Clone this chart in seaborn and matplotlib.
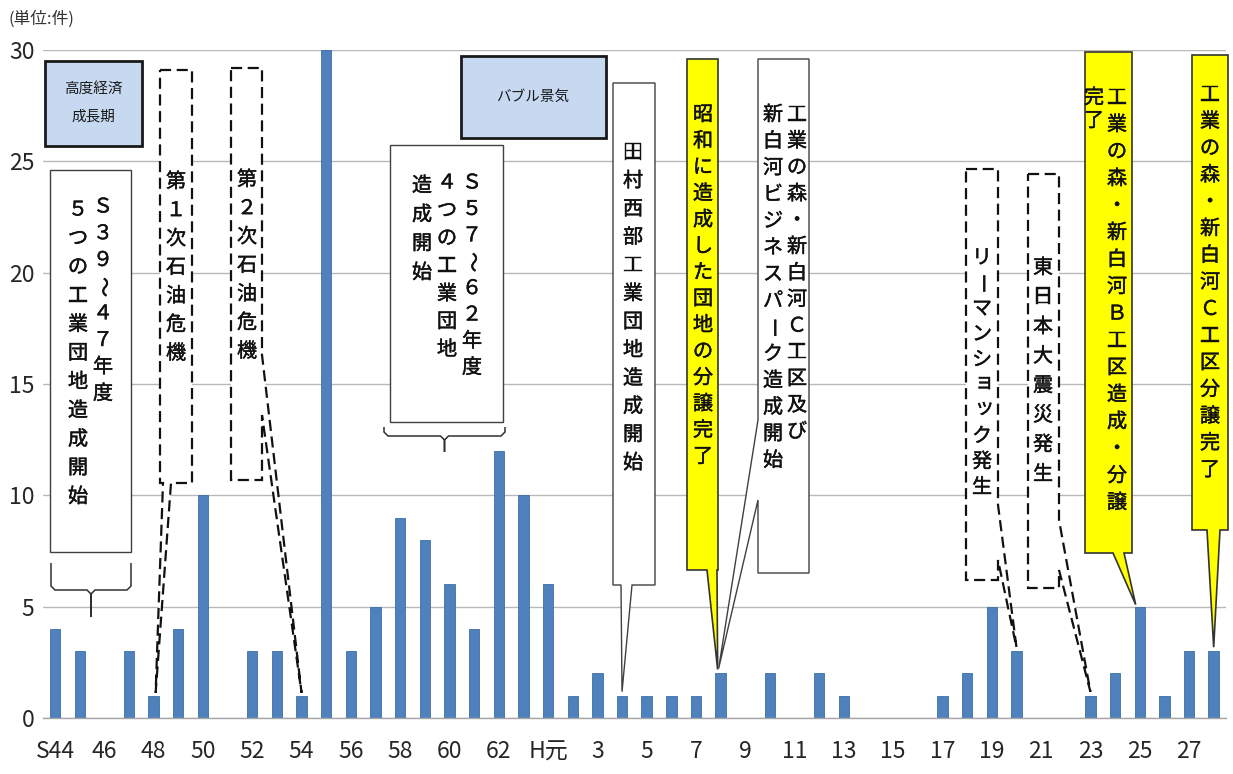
import matplotlib
matplotlib.use("Agg")
import matplotlib.pyplot as plt
import matplotlib.patheffects as pe
import seaborn as sns
import pandas as pd
import numpy as np
from matplotlib.patches import Polygon, Rectangle
from matplotlib.transforms import Affine2D

# Number of factory sitings per fiscal year (Showa 44 - Heisei 28)
years = ["S44", "S45", "S46", "S47", "S48", "S49", "S50", "S51", "S52", "S53",
         "S54", "S55", "S56", "S57", "S58", "S59", "S60", "S61", "S62", "S63",
         "H1", "H2", "H3", "H4", "H5", "H6", "H7", "H8", "H9", "H10",
         "H11", "H12", "H13", "H14", "H15", "H16", "H17", "H18", "H19", "H20",
         "H21", "H22", "H23", "H24", "H25", "H26", "H27", "H28"]
counts = [4, 3, 0, 3, 1, 4, 10, 0, 3, 3,
          1, 30, 3, 5, 9, 8, 6, 4, 12, 10,
          6, 1, 2, 1, 1, 1, 1, 2, 0, 2,
          0, 2, 1, 0, 0, 0, 1, 2, 5, 3,
          0, 0, 1, 2, 5, 1, 3, 3]
tick_labels = ["S44", "46", "48", "50", "52", "54", "56", "58", "60", "62",
               "H元", "3", "5", "7", "9", "11", "13", "15", "17", "19",
               "21", "23", "25", "27"]
y_ticks = [0, 5, 10, 15, 20, 25, 30]

W, H = 1233, 774
JP = ["Noto Sans CJK JP", "DejaVu Sans"]
NUM = ["Liberation Sans Narrow", "Noto Sans CJK JP", "DejaVu Sans"]

sns.set_style("white")
plt.rcParams["font.family"] = NUM

fig = plt.figure(figsize=(W / 100, H / 100), dpi=100)
ax = fig.add_axes([42.7 / W, 1 - 718 / H, (1226 - 42.7) / W, (718 - 50) / H])

df = pd.DataFrame({"year": years, "count": counts})
sns.barplot(data=df, x="year", y="count", color="#4F81BD", saturation=1,
            width=0.42, edgecolor="#3E6FA8", linewidth=0.6, ax=ax)

ax.set_xlim(-0.5, len(years) - 0.5)
ax.set_ylim(0, 30)
ax.set_xlabel("")
ax.set_ylabel("")
for s in ["top", "right", "left"]:
    ax.spines[s].set_visible(False)
ax.spines["bottom"].set_color("#A6A6A6")
ax.spines["bottom"].set_linewidth(1.0)
ax.set_yticks(y_ticks)
ax.set_yticklabels([str(v) for v in y_ticks], fontsize=16.5)
ax.yaxis.grid(True, color="#B8B8B8", linewidth=1.0)
ax.set_axisbelow(True)
ax.tick_params(axis="y", length=0, pad=6)
ax.set_xticks(np.arange(0, len(years), 2))
ax.set_xticklabels(tick_labels, fontsize=16.5)
ax.set_xticks(np.arange(-0.5, len(years), 1), minor=True)
ax.tick_params(axis="x", which="major", length=0, pad=16)
ax.tick_params(axis="x", which="minor", length=6, color="#A6A6A6", width=1)

# pixel-space transform (origin top-left) for the annotation layer
to_px = Affine2D().scale(1 / W, -1 / H).translate(0, 1) + fig.transFigure


def bar_top(idx, dx=0.0, dy=0.0):
    x, y = ax.transData.transform((idx, counts[idx]))
    return (x + dx, H - y - dy)


def box(x0, y0, x1, y1, fc="white", ec="#404040", lw=1.0, ls="-"):
    fig.add_artist(Rectangle((x0, y0), x1 - x0, y1 - y0, transform=to_px,
                             fc=fc, ec=ec, lw=lw, ls=ls, zorder=2))


def callout(x0, y0, x1, y1, side, b0, b1, tip, fc="white", ec="#404040",
            lw=1.0, ls="-"):
    if side == "bottom":
        pts = [(x0, y0), (x1, y0), (x1, y1), (b1, y1), tip, (b0, y1), (x0, y1)]
    elif side == "right":
        pts = [(x0, y0), (x1, y0), (x1, b0), tip, (x1, b1), (x1, y1), (x0, y1)]
    else:
        pts = [(x0, y0), (x1, y0), (x1, y1), (x0, y1), (x0, b1), tip, (x0, b0)]
    fig.add_artist(Polygon(pts, closed=True, transform=to_px, fc=fc, ec=ec,
                           lw=lw, ls=ls, joinstyle="miter", zorder=2))


SMALL_KANA = set("ッョャュァィゥェォ")
TURNED = set("ー～")
TEXT_SIZE = 14.5
INK = "#111111"
# slightly heavier strokes than the regular face
HEAVY = [pe.withStroke(linewidth=0.3, foreground=INK)]


def vcol(x, y, text, step, size=TEXT_SIZE):
    """Write one column of vertical (top-to-bottom) text."""
    for k, ch in enumerate(text):
        dx = dy = 0.0
        rot = 0
        if ch in TURNED:
            rot = -90
        if ch in SMALL_KANA:
            dx, dy = 2.5, -3.0
        fig.text(x + dx, y + k * step + dy, ch, transform=to_px, ha="center",
                 va="center", rotation=rot, fontsize=size, family=JP,
                 color=INK, path_effects=HEAVY, zorder=4)


def htext(x, y, text, size=10.5):
    fig.text(x, y, text, transform=to_px, ha="center", va="center",
             fontsize=size, family=JP, color="#1a1a1a", zorder=4)


def brace(x0, x1, ytop, ymid, ytip):
    xc = (x0 + x1) / 2
    r = 4
    pts = [(x0, ytop), (x0, ymid - r), (x0 + r, ymid), (xc - r, ymid),
           (xc, ymid + r), (xc, ytip), (xc, ymid + r), (xc + r, ymid),
           (x1 - r, ymid), (x1, ymid - r), (x1, ytop)]
    fig.add_artist(Polygon(pts, closed=False, fill=False, transform=to_px,
                           ec="#303030", lw=1.1, zorder=2))


DASH = (0, (5, 2.5))
YELLOW = "#FFFF00"
LIGHTBLUE = "#C6D9F1"

# unit
fig.text(8, 19, "(単位:件)", transform=to_px, ha="left", va="center",
         fontsize=12, family=JP, color="#333333")

# era boxes
box(45, 61, 142, 146, fc=LIGHTBLUE, ec="#1a1a1a", lw=2.0)
htext(93, 89, "高度経済")
htext(93, 117, "成長期")
box(461, 56, 606, 138, fc=LIGHTBLUE, ec="#1a1a1a", lw=2.0)
htext(533, 97, "バブル景気")

# S39-47 industrial parks
box(50, 170, 131, 552)
vcol(103, 207, "Ｓ３９～４７年度", 26.7)
vcol(78, 210, "５つの工業団地造成開始", 28.7)
brace(51, 131, 563, 590, 617)

# oil crises
callout(160, 70, 192, 483, "bottom", 163, 171, bar_top(4, dx=2, dy=3),
        ls=DASH, lw=1.6, ec="#111111")
vcol(176, 182, "第１次石油危機", 28.6)
callout(231, 68, 262, 480, "right", 355, 415, bar_top(10, dy=3),
        ls=DASH, lw=1.6, ec="#111111")
vcol(247, 180, "第２次石油危機", 28.6)

# S57-62 industrial parks
box(390, 145, 503, 422)
vcol(472, 183, "Ｓ５７～６２年度", 26.4)
vcol(447, 183, "４つの工業団地", 27.8)
vcol(422, 186, "造成開始", 29.0)
brace(384, 505, 427, 436, 452)

# Heisei era callouts
callout(613, 83, 655, 585, "bottom", 621, 632, bar_top(23, dy=4))
vcol(633, 153, "田村西部工業団地造成開始", 28.2)

callout(687, 59, 718, 570, "bottom", 707, 717, bar_top(27, dx=-3, dy=4),
        fc=YELLOW, ec="#333333", lw=1.2)
vcol(703, 115, "昭和に造成した団地の分譲完了", 26.3)

callout(758, 59, 809, 573, "left", 420, 500, bar_top(27, dx=-2, dy=5))
vcol(797, 115, "工業の森・新白河Ｃ工区及び", 26.4)
vcol(773, 115, "新白河ビジネスパーク造成開始", 26.6)

callout(966, 169, 998, 580, "right", 505, 560, bar_top(39, dy=4),
        ls=DASH, lw=1.6, ec="#111111")
vcol(982, 258, "リーマンショック発生", 25.5)

callout(1028, 174, 1059, 588, "right", 520, 570, bar_top(42, dy=4),
        ls=DASH, lw=1.6, ec="#111111")
vcol(1043, 268, "東日本大震災発生", 29.5)

callout(1085, 52, 1132, 553, "bottom", 1113, 1124, bar_top(44, dx=-4, dy=2),
        fc=YELLOW, ec="#333333", lw=1.2)
vcol(1117, 98, "工業の森・新白河Ｂ工区造成・分譲", 27.0)
vcol(1094, 98, "完了", 23.0)

callout(1192, 55, 1228, 530, "bottom", 1207, 1220, bar_top(47, dy=4),
        fc=YELLOW, ec="#333333", lw=1.2)
vcol(1210, 95, "工業の森・新白河Ｃ工区分譲完了", 26.8)

fig.savefig("out.png", dpi=100)
